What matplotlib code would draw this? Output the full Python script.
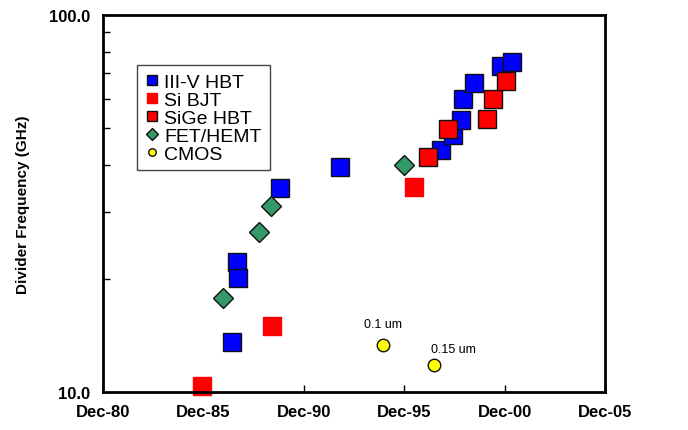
import matplotlib
matplotlib.use('Agg')
import matplotlib.pyplot as plt
import numpy as np
from matplotlib.ticker import FixedLocator, NullFormatter

plt.rcParams['font.family'] = ['Liberation Sans', 'DejaVu Sans']

# dates as decimal years (Dec-80 = 1980.92)
iii_v_x = [1987.34, 1987.59, 1987.64, 1989.73, 1992.72, 1997.75, 1998.35,
           1998.75, 1998.85, 1999.39, 2000.74, 2001.29]
iii_v_y = [13.6, 22.1, 20.1, 34.8, 39.5, 43.9, 48.0, 52.7, 59.9, 66.0, 73.2, 75.1]

si_bjt_x = [1985.85, 1989.33, 1996.41]
si_bjt_y = [10.4, 15.0, 35.0]

sige_x = [1997.10, 1998.10, 2000.04, 2000.34, 2000.99]
sige_y = [42.0, 49.8, 53.0, 59.9, 66.8]

fet_x = [1986.90, 1988.69, 1989.28, 1995.90]
fet_y = [17.8, 26.6, 31.1, 40.0]

cmos_x = [1994.86, 1997.40]
cmos_y = [13.3, 11.8]
cmos_labels = ['0.1 um', '0.15 um']

tick_years = [1980.92, 1985.92, 1990.92, 1995.92, 2000.92, 2005.92]
tick_labels = ['Dec-80', 'Dec-85', 'Dec-90', 'Dec-95', 'Dec-00', 'Dec-05']

fig = plt.figure(figsize=(6.88, 4.31), dpi=100)
ax = fig.add_axes([103 / 688, 1 - 393 / 431, 502 / 688, 377 / 431])

ax.plot(iii_v_x, iii_v_y, 's', ms=13, mfc='#0000ff', mec='#111111', mew=1,
        label='III-V HBT', clip_on=False)
ax.plot(si_bjt_x, si_bjt_y, 's', ms=13, mfc='#ff0000', mec='#ff0000', mew=1,
        label='Si BJT', clip_on=False)
ax.plot(sige_x, sige_y, 's', ms=13, mfc='#ff0000', mec='#111111', mew=1,
        label='SiGe HBT', clip_on=False)
ax.plot(fet_x, fet_y, 'D', ms=10, mfc='#339966', mec='#111111', mew=1,
        label='FET/HEMT', clip_on=False)
ax.plot(cmos_x, cmos_y, 'o', ms=9, mfc='#ffff00', mec='#111111', mew=1,
        label='CMOS', clip_on=False)

# CMOS annotations
ax.annotate(cmos_labels[0], (cmos_x[0], cmos_y[0]), xytext=(0, 11),
            textcoords='offset points', ha='center', va='bottom', fontsize=9)
ax.annotate(cmos_labels[1], (cmos_x[1], cmos_y[1]), xytext=(-2, 7),
            textcoords='offset points', ha='left', va='bottom', fontsize=9)

ax.set_yscale('log')
ax.set_ylim(10, 100)
ax.set_xlim(tick_years[0], tick_years[-1])

ax.set_xticks(tick_years)
ax.set_xticklabels(tick_labels, fontsize=12, fontweight='bold')
ax.set_yticks([10, 100])
ax.set_yticklabels(['10.0', '100.0'], fontsize=12, fontweight='bold')
ax.yaxis.set_minor_locator(FixedLocator([20, 30, 40, 50, 60, 70, 80, 90]))
ax.yaxis.set_minor_formatter(NullFormatter())
ax.tick_params(axis='x', direction='in', length=5, width=1, pad=9)
ax.tick_params(axis='y', which='major', direction='in', length=0, pad=9)
ax.tick_params(axis='y', which='minor', direction='in', length=5, width=1)

for s in ax.spines.values():
    s.set_linewidth(2)

ax.set_ylabel('Divider Frequency (GHz)', fontsize=11, fontweight='bold', labelpad=14)

leg = ax.legend(loc='upper left', bbox_to_anchor=(0.068, 0.867), borderaxespad=0,
                fontsize=14, frameon=True, fancybox=False, shadow=False,
                markerscale=0.6, handlelength=0.7, handletextpad=0.3,
                labelspacing=0.02, borderpad=0.4, framealpha=1)
leg.get_frame().set_edgecolor('#444444')
leg.get_frame().set_linewidth(1)

fig.savefig('out.png', dpi=100)
